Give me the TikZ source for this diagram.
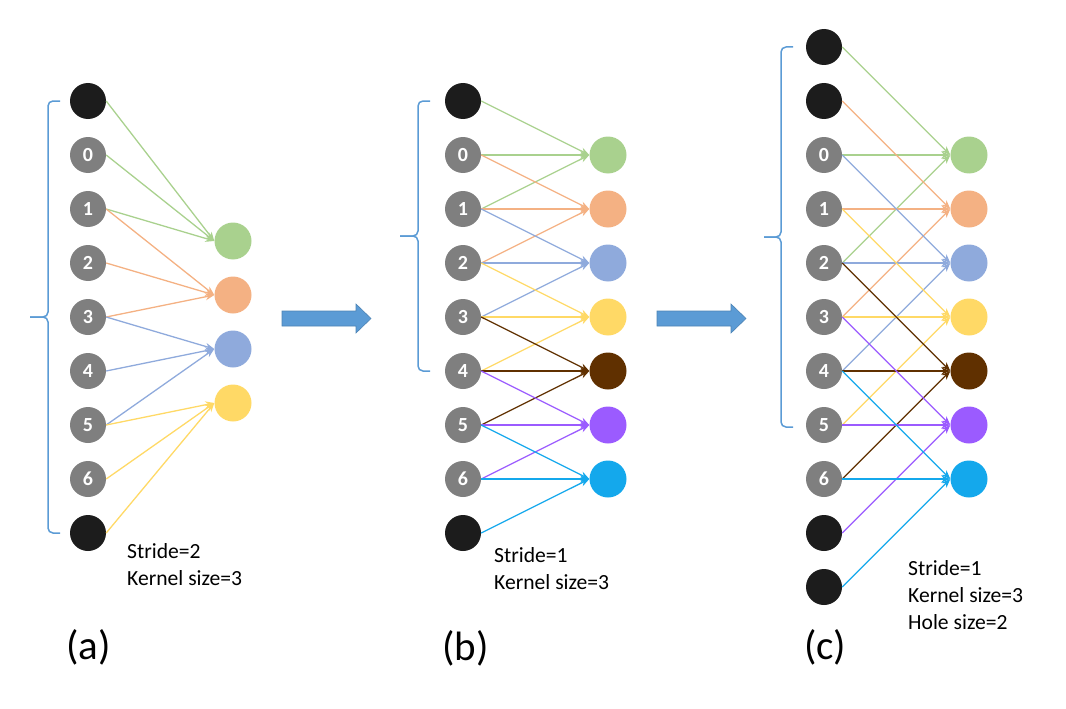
\documentclass[tikz,border=0pt]{standalone}
\usepackage{fontspec}
\setmainfont{Carlito}
\usetikzlibrary{arrows.meta}
\definecolor{cgreen}{HTML}{A9D18E}
\definecolor{corange}{HTML}{F4B183}
\definecolor{cblue}{HTML}{8FAADC}
\definecolor{cyellow}{HTML}{FFD966}
\definecolor{cbrown}{HTML}{603000}
\definecolor{cpurple}{HTML}{9B5BFF}
\definecolor{ccyan}{HTML}{14A8EC}
\definecolor{cgrey}{HTML}{7F7F7F}
\definecolor{cblack}{HTML}{1C1C1C}
\definecolor{cbrace}{HTML}{5B9BD5}
\begin{document}
\begin{tikzpicture}[x=1pt,y=-1pt,
 innode/.style={circle,fill=cgrey,minimum size=36pt,inner sep=0pt,text=white,font=\fontsize{20}{20}\selectfont\bfseries},
 padnode/.style={circle,fill=cblack,minimum size=36pt,inner sep=0pt},
 outnode/.style={circle,minimum size=37pt,inner sep=0pt},
 conn/.style={line width=1.3pt,-{Stealth[length=9pt,width=7pt]}},
 bracepath/.style={draw=cbrace,line width=1.5pt,rounded corners=5pt},
 bigarrow/.style={fill=cbrace,draw=cbrace!85!black,line width=0.6pt},
 info/.style={anchor=west,inner sep=0pt,font=\fontsize{21.6}{27}\selectfont,align=left},
 panel/.style={anchor=west,inner sep=0pt,font=\fontsize{41}{41}\selectfont}]
\useasboundingbox (0,0) rectangle (1066,709);

% ---------- panel (a) ----------
\draw[bracepath] (60,101) -- (48,101) -- (48,317) -- (30,317);
\draw[bracepath] (60,533) -- (48,533) -- (48,317) -- (30,317);
\node[padnode] (aL) at (88,101) {};
\node[padnode] (aR) at (88,533) {};
\foreach \k in {0,...,6} \node[innode] (a\k) at (88,{155+54*\k}) {\k};
\foreach \j/\c in {0/cgreen,1/corange,2/cblue,3/cyellow}
  \node[outnode,fill=\c] (ao\j) at (233,{241+54*\j}) {};
\foreach \s/\t/\c in {aL/ao0/cgreen,a0/ao0/cgreen,a1/ao0/cgreen,
  a1/ao1/corange,a2/ao1/corange,a3/ao1/corange,
  a3/ao2/cblue,a4/ao2/cblue,a5/ao2/cblue,
  a5/ao3/cyellow,a6/ao3/cyellow,aR/ao3/cyellow}
  \draw[conn,\c] (\s.east) -- (\t.west);
\node[info] (ta) at (127,564.5) {Stride=2\\Kernel size=3};
\node[panel] (pa) at (66,647) {(a)};

% ---------- arrow 1 ----------
\draw[bigarrow] (282,311) -- (356,311) -- (356,304) -- (371,318.5) -- (356,333) -- (356,326) -- (282,326) -- cycle;

% ---------- panel (b) ----------
\draw[bracepath] (430,101) -- (418,101) -- (418,236) -- (400,236);
\draw[bracepath] (430,371) -- (418,371) -- (418,236) -- (400,236);
\node[padnode] (bL) at (463,101) {};
\node[padnode] (bR) at (463,533) {};
\foreach \k in {0,...,6} \node[innode] (b\k) at (463,{155+54*\k}) {\k};
\foreach \j/\c in {0/cgreen,1/corange,2/cblue,3/cyellow,4/cbrown,5/cpurple,6/ccyan}
  \node[outnode,fill=\c] (bo\j) at (608,{155+54*\j}) {};
\foreach \s/\t/\c in {bL/bo0/cgreen,b0/bo0/cgreen,b1/bo0/cgreen,
  b0/bo1/corange,b1/bo1/corange,b2/bo1/corange,
  b1/bo2/cblue,b2/bo2/cblue,b3/bo2/cblue,
  b2/bo3/cyellow,b3/bo3/cyellow,b4/bo3/cyellow,
  b3/bo4/cbrown,b4/bo4/cbrown,b5/bo4/cbrown,
  b4/bo5/cpurple,b5/bo5/cpurple,b6/bo5/cpurple,
  b5/bo6/ccyan,b6/bo6/ccyan,bR/bo6/ccyan}
  \draw[conn,\c] (\s.east) -- (\t.west);
\node[info] (tb) at (494,568.5) {Stride=1\\Kernel size=3};
\node[panel] (pb) at (442,648) {(b)};

% ---------- arrow 2 ----------
\draw[bigarrow] (657,311) -- (731,311) -- (731,304) -- (746,318.5) -- (731,333) -- (731,326) -- (657,326) -- cycle;

% ---------- panel (c) ----------
\draw[bracepath] (793,47) -- (781,47) -- (781,237) -- (764,237);
\draw[bracepath] (793,427) -- (781,427) -- (781,237) -- (764,237);
\node[padnode] (cLa) at (824,47) {};
\node[padnode] (cLb) at (824,101) {};
\node[padnode] (cRa) at (824,533) {};
\node[padnode] (cRb) at (824,587) {};
\foreach \k in {0,...,6} \node[innode] (c\k) at (824,{155+54*\k}) {\k};
\foreach \j/\c in {0/cgreen,1/corange,2/cblue,3/cyellow,4/cbrown,5/cpurple,6/ccyan}
  \node[outnode,fill=\c] (co\j) at (969,{155+54*\j}) {};
\foreach \s/\t/\c in {cLa/co0/cgreen,c0/co0/cgreen,c2/co0/cgreen,
  cLb/co1/corange,c1/co1/corange,c3/co1/corange,
  c0/co2/cblue,c2/co2/cblue,c4/co2/cblue,
  c1/co3/cyellow,c3/co3/cyellow,c5/co3/cyellow,
  c2/co4/cbrown,c4/co4/cbrown,c6/co4/cbrown,
  c3/co5/cpurple,c5/co5/cpurple,cRa/co5/cpurple,
  c4/co6/ccyan,c6/co6/ccyan,cRb/co6/ccyan}
  \draw[conn,\c] (\s.east) -- (\t.west);
\node[info] (tc) at (908,595) {Stride=1\\Kernel size=3\\Hole size=2};
\node[panel] (pc) at (804,647) {(c)};
\end{tikzpicture}
\end{document}
